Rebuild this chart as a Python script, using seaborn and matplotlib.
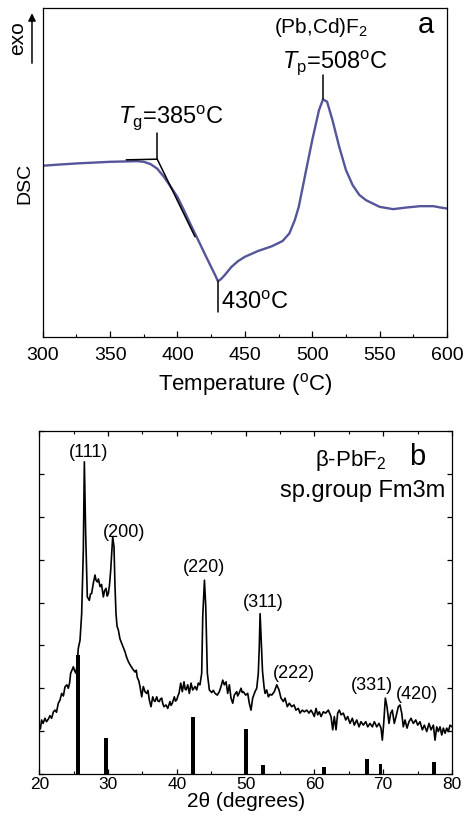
import numpy as np
import pandas as pd
import matplotlib
matplotlib.use("Agg")
import matplotlib.pyplot as plt
from matplotlib.ticker import MultipleLocator, NullFormatter
import seaborn as sns

# ---------------- DSC trace (panel a) ----------------
dsc_temp = [300, 310, 325, 340, 350, 360, 370, 375, 380, 385, 390, 395, 400, 405,
            410, 415, 420, 425, 428, 430, 432, 435, 440, 445, 450, 460, 470, 478,
            483, 487, 490, 495, 500, 505, 508, 511, 515, 520, 525, 530, 535, 540,
            550, 560, 570, 580, 590, 595, 600]
dsc_signal = [52.1, 52.4, 52.8, 53.1, 53.3, 53.4, 53.5, 53.3, 52.6, 51.2, 48.7, 45.7,
              42.6, 38.4, 34.0, 29.8, 25.5, 21.3, 18.8, 17.0, 17.5, 18.8, 21.3, 23.1,
              24.4, 26.2, 27.6, 29.2, 31.5, 35.5, 39.6, 49.8, 59.9, 69.0, 72.3, 71.6,
              66.0, 57.9, 50.8, 46.2, 43.2, 41.6, 39.6, 38.9, 39.4, 39.8, 39.8, 39.4, 39.1]

# glass-transition construction: baseline extension and inflection tangent
tg_line_temp = [362, 385, 413]
tg_line_signal = [53.9, 54.1, 30.5]

t_glass, t_min, t_peak = 385, 430, 508

# ---------------- XRD pattern (panel b) ----------------
two_theta = [
    20.00, 20.15, 20.34, 20.55, 20.82, 21.05, 21.31, 21.55, 21.79, 22.05,
    22.28, 22.50, 22.76, 23.00, 23.25, 23.50, 23.73, 24.00, 24.22, 24.40,
    24.56, 24.75, 24.95, 25.15, 25.33, 25.50, 25.67, 25.92, 26.16, 26.40,
    26.55, 26.74, 26.98, 27.27, 27.45, 27.61, 27.85, 28.10, 28.25, 28.44,
    28.60, 28.83, 29.05, 29.31, 29.50, 29.70, 29.88, 30.04, 30.20, 30.38,
    30.67, 30.86, 31.00, 31.15, 31.30, 31.49, 31.73, 31.97, 32.22, 32.46,
    32.70, 32.95, 33.19, 33.58, 33.91, 34.10, 34.25, 34.45, 34.64, 34.89,
    35.12, 35.37, 35.61, 35.80, 35.99, 36.24, 36.49, 36.65, 36.82, 37.07,
    37.25, 37.45, 37.62, 37.80, 37.95, 38.13, 38.42, 38.67, 38.85, 39.00,
    39.15, 39.34, 39.63, 39.80, 39.98, 40.15, 40.31, 40.56, 40.79, 41.04,
    41.20, 41.33, 41.58, 41.81, 42.06, 42.30, 42.64, 42.88, 43.12, 43.36,
    43.61, 43.76, 44.01, 44.20, 44.43, 44.72, 45.07, 45.30, 45.55, 45.88,
    46.17, 46.42, 46.67, 46.90, 47.15, 47.39, 47.63, 47.87, 48.12, 48.35,
    48.70, 48.85, 49.03, 49.33, 49.50, 49.66, 50.01, 50.30, 50.53, 50.78,
    51.02, 51.36, 51.61, 51.84, 51.98, 52.10, 52.30, 52.45, 52.67, 52.82,
    53.06, 53.30, 53.55, 53.79, 54.17, 54.52, 54.85, 55.14, 55.48, 55.72,
    56.06, 56.35, 56.70, 57.03, 57.32, 57.66, 57.90, 58.24, 58.53, 58.88,
    59.21, 59.50, 59.75, 59.98, 60.23, 60.48, 60.71, 60.96, 61.29, 61.64,
    62.02, 62.41, 62.66, 62.89, 63.14, 63.38, 63.62, 63.87, 64.20, 64.55,
    64.84, 65.17, 65.51, 65.80, 66.15, 66.48, 66.77, 67.11, 67.46, 67.75,
    68.08, 68.42, 68.71, 69.06, 69.39, 69.68, 69.87, 70.07, 70.31, 70.55,
    70.84, 71.09, 71.32, 71.61, 71.86, 72.20, 72.44, 72.69, 72.92, 73.17,
    73.46, 73.75, 74.04, 74.38, 74.73, 75.02, 75.35, 75.69, 75.98, 76.33,
    76.66, 76.95, 77.29, 77.53, 77.78, 78.01, 78.26, 78.51, 78.74, 78.99,
    79.23, 79.47, 79.71, 80.00]
intensity = [
    1.14, 1.05, 1.26, 1.18, 1.30, 1.22, 1.28, 1.36, 1.30, 1.45,
    1.49, 1.44, 1.65, 1.72, 1.88, 1.82, 2.03, 2.08, 2.00, 2.12,
    2.35, 2.42, 2.50, 2.40, 2.35, 2.55, 2.93, 3.12, 3.74, 5.22,
    7.28, 5.61, 4.13, 4.05, 4.20, 4.21, 4.45, 4.64, 4.52, 4.48,
    4.55, 4.37, 4.42, 4.13, 4.28, 4.33, 4.15, 4.21, 4.40, 4.75,
    5.53, 5.30, 4.40, 3.74, 3.45, 3.36, 3.15, 3.05, 2.95, 2.85,
    2.72, 2.62, 2.55, 2.45, 2.38, 2.42, 2.25, 2.18, 2.04, 1.80,
    2.04, 1.92, 1.88, 1.95, 1.73, 1.57, 1.80, 1.72, 1.69, 1.80,
    1.70, 1.69, 1.75, 1.77, 1.64, 1.57, 1.61, 1.53, 1.62, 1.69,
    1.60, 1.65, 1.80, 1.70, 1.73, 1.82, 1.88, 2.12, 1.92, 2.15,
    1.98, 1.96, 2.08, 1.88, 2.12, 1.96, 2.04, 1.96, 2.12, 2.08,
    2.35, 3.67, 4.52, 3.90, 2.35, 1.96, 1.90, 1.95, 1.88, 1.84,
    1.92, 2.04, 2.19, 2.08, 2.15, 1.88, 2.08, 1.77, 1.65, 1.84,
    1.92, 1.82, 1.88, 2.00, 1.90, 1.92, 1.84, 1.88, 1.65, 1.49,
    1.77, 1.92, 2.00, 2.35, 2.95, 3.74, 3.00, 2.40, 2.04, 1.88,
    1.96, 1.80, 1.86, 1.84, 1.92, 2.08, 1.96, 1.77, 1.69, 1.77,
    1.57, 1.65, 1.57, 1.61, 1.49, 1.53, 1.42, 1.49, 1.45, 1.49,
    1.42, 1.49, 1.42, 1.34, 1.53, 1.38, 1.45, 1.34, 1.45, 1.42,
    1.49, 1.34, 1.03, 1.34, 1.03, 1.42, 1.49, 1.38, 1.42, 1.26,
    1.34, 1.18, 1.30, 1.14, 1.26, 1.10, 1.22, 1.14, 1.22, 1.10,
    1.18, 1.10, 1.22, 1.10, 1.18, 1.07, 0.79, 1.18, 1.77, 1.57,
    1.18, 1.42, 1.49, 1.18, 1.34, 1.57, 1.61, 1.42, 1.10, 1.26,
    1.07, 1.22, 1.30, 1.18, 1.26, 1.14, 1.22, 1.03, 1.14, 0.99,
    1.18, 1.03, 1.14, 0.79, 1.10, 0.99, 1.10, 0.91, 1.07, 0.95,
    1.07, 0.99, 1.14, 1.10]

# reference lines of cubic beta-PbF2
ref_pos = [25.58, 29.70, 42.35, 50.05, 52.50, 61.40, 67.60, 69.60, 77.40]
ref_height = [2.77, 0.85, 1.34, 1.06, 0.21, 0.17, 0.35, 0.23, 0.29]

hkl_labels = ["(111)", "(200)", "(220)", "(311)", "(222)", "(331)", "(420)"]
hkl_x = [27.1, 32.3, 43.96, 52.6, 56.95, 68.35, 74.9]
hkl_y = [7.39, 5.53, 4.71, 3.90, 2.23, 1.97, 1.76]

# ---------------- style ----------------
sns.set_style("ticks")
plt.rcParams["font.family"] = ["Liberation Sans", "DejaVu Sans"]
plt.rcParams["mathtext.fontset"] = "custom"
plt.rcParams["mathtext.rm"] = "Liberation Sans"
plt.rcParams["mathtext.it"] = "Liberation Sans:italic"
plt.rcParams["mathtext.bf"] = "Liberation Sans:bold"
plt.rcParams["axes.linewidth"] = 0.9
plt.rcParams["axes.edgecolor"] = "black"
plt.rcParams["text.color"] = "black"
plt.rcParams["axes.labelcolor"] = "black"
plt.rcParams["xtick.color"] = "black"
plt.rcParams["ytick.color"] = "black"

W, H = 463, 823
fig = plt.figure(figsize=(W / 100, H / 100), dpi=100)
fig.patch.set_facecolor("white")


def px_axes(left, top, right, bottom):
    return fig.add_axes([left / W, 1 - bottom / H, (right - left) / W, (bottom - top) / H])


# ================= panel a =================
ax1 = px_axes(42.7, 8.3, 447, 337)
dsc = pd.DataFrame({"T": dsc_temp, "S": dsc_signal})
sns.lineplot(data=dsc, x="T", y="S", ax=ax1, color="#55559a", lw=1.7,
             sort=False, estimator=None)
sns.lineplot(x=tg_line_temp, y=tg_line_signal, ax=ax1, color="black", lw=1.1,
             sort=False, estimator=None)

ax1.set_xlim(300, 600)
ax1.set_ylim(0, 100)
ax1.xaxis.set_major_locator(MultipleLocator(50))
ax1.xaxis.set_minor_locator(MultipleLocator(25))
ax1.set_yticks([])
ax1.tick_params(axis="x", which="major", direction="in", length=4.5, width=0.9,
                labelsize=14, pad=7)
ax1.tick_params(axis="x", which="minor", direction="in", length=2.2, width=0.8)
for s in ax1.spines.values():
    s.set_visible(True)
    s.set_color("black")
ax1.set_xlabel(r"Temperature ($^{\rm o}$C)", fontsize=16, labelpad=5.5)
ax1.set_ylabel("DSC", fontsize=14)
ax1.yaxis.label.set_va("center")
ax1.yaxis.set_label_coords(-0.044, 0.468)

# markers for Tg, minimum and crystallisation peak
tg_y = float(np.interp(t_glass, tg_line_temp, tg_line_signal))
ax1.plot([t_glass, t_glass], [tg_y, 62.1], color="black", lw=1.1)
pk_y = float(np.interp(t_peak, dsc_temp, dsc_signal))
ax1.plot([t_peak, t_peak], [pk_y, 79.7], color="black", lw=1.1)
mn_y = float(np.interp(t_min, dsc_temp, dsc_signal))
ax1.plot([t_min, t_min], [mn_y, 7.6], color="black", lw=1.1)

ax1.text(395, 65.2, r"$T_{\rm g}$=%d$^{\rm o}$C" % t_glass, fontsize=17,
         ha="center", va="baseline")
ax1.text(517, 81.7, r"$T_{\rm p}$=%d$^{\rm o}$C" % t_peak, fontsize=17,
         ha="center", va="baseline")
ax1.text(506.5, 92.4, r"(Pb,Cd)F$_2$", fontsize=15, ha="center", va="baseline")
ax1.text(432, 8.6, r"%d$^{\rm o}$C" % t_min, fontsize=17, ha="left", va="baseline")
ax1.text(584, 92.4, "a", fontsize=21, ha="center", va="baseline")

# exothermic direction
ax1.text(-0.063, 0.908, "exo", fontsize=15, rotation=90, ha="center", va="center",
         transform=ax1.transAxes)
ax1.annotate("", xy=(-0.0265, 0.985), xytext=(-0.0265, 0.833),
             xycoords="axes fraction", textcoords="axes fraction",
             annotation_clip=False,
             arrowprops=dict(arrowstyle="-|>", color="black", lw=1.1,
                             mutation_scale=11, shrinkA=0, shrinkB=0))

# ================= panel b =================
ax2 = px_axes(39.3, 431, 452, 774)
ax2.bar(ref_pos, ref_height, width=0.55, color="black", linewidth=0, zorder=2)
xrd = pd.DataFrame({"tt": two_theta, "I": intensity})
sns.lineplot(data=xrd, x="tt", y="I", ax=ax2, color="black", lw=1.2,
             sort=False, estimator=None, zorder=3)

ax2.set_xlim(20, 80)
ax2.set_ylim(0, 8)
ax2.xaxis.set_major_locator(MultipleLocator(10))
ax2.xaxis.set_minor_locator(MultipleLocator(5))
ax2.yaxis.set_major_locator(MultipleLocator(1))
ax2.yaxis.set_major_formatter(NullFormatter())
ax2.tick_params(axis="both", which="major", direction="in", length=3.5, width=0.9,
                top=True, right=True)
ax2.tick_params(axis="x", which="minor", direction="in", length=2, width=0.8,
                top=True)
ax2.tick_params(axis="x", labelsize=12.5, pad=2)
ax2.tick_params(axis="y", left=True, right=True, length=3.5)
for s in ax2.spines.values():
    s.set_visible(True)
    s.set_color("black")
ax2.set_xlabel("2θ (degrees)", fontsize=15, labelpad=0)
ax2.set_ylabel("")

for lab, x, y in zip(hkl_labels, hkl_x, hkl_y):
    ax2.text(x, y, lab, fontsize=13, ha="center", va="baseline")

ax2.text(65.3, 7.18, "β-PbF$_2$", fontsize=16, ha="center", va="baseline")
ax2.text(79.0, 6.46, "sp.group Fm3m", fontsize=17, ha="right", va="baseline")
ax2.text(74.9, 7.2, "b", fontsize=21, ha="center", va="baseline")

fig.savefig("out.png", dpi=100, facecolor="white")
